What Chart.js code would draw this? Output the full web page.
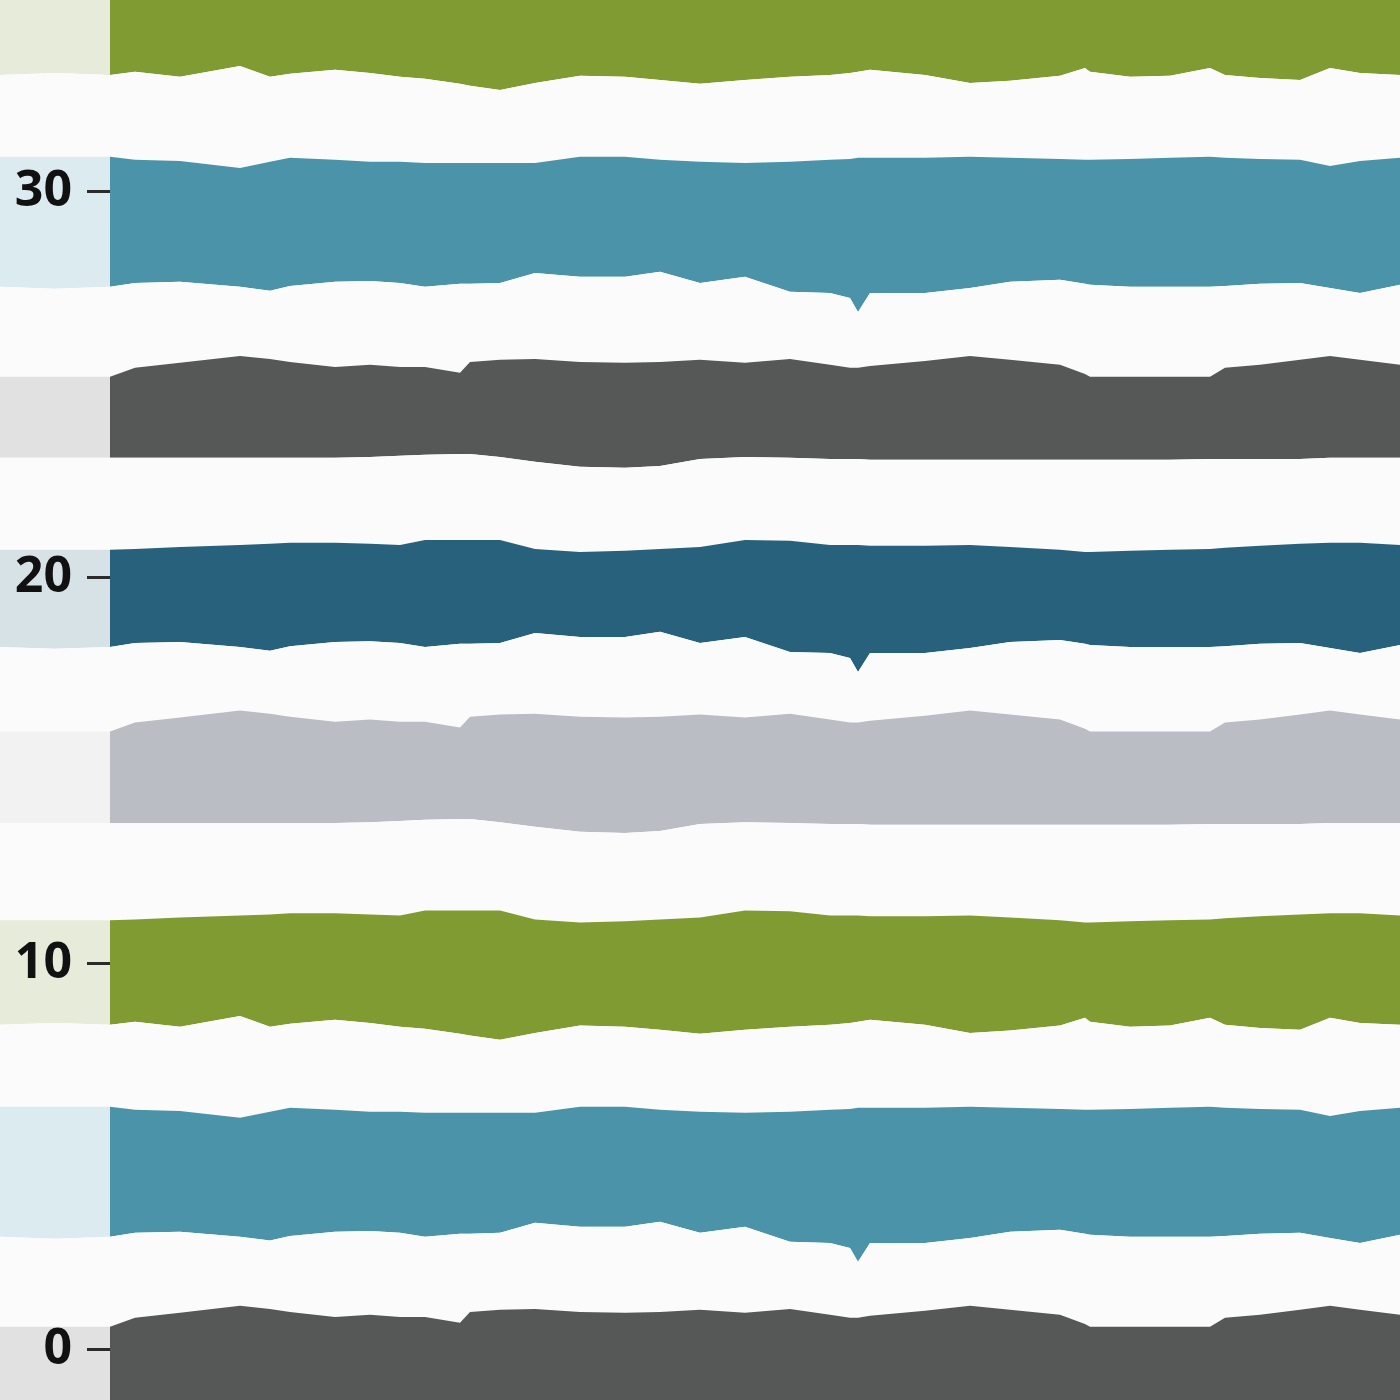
<!DOCTYPE html>
<html>
<head>
<meta charset="utf-8">
<script src="https://cdn.jsdelivr.net/npm/chart.js@4/dist/chart.umd.min.js"></script>
<style>
  html, body { margin: 0; padding: 0; background: #ffffff; }
  #chart { display: block; }
</style>
</head>
<body>
<canvas id="chart" width="1400" height="1400"></canvas>
<script>
// sample positions along the x axis
const xs = [0, 5.5, 11, 13.5, 18, 24, 27, 29, 33.5, 37, 40, 42.5, 46, 47, 50, 53.5, 58, 62.5, 66, 70,
  74.5, 79, 83, 85, 85.8, 87, 92.5, 97, 101, 106, 108.5, 109, 113, 117, 121, 122.5, 126, 130, 133, 136, 140];
const stripEnd = 11;     // where the axis sits
const labelEdge = 7.2;   // right edge of the tick labels
const yTicks = [0, 10, 20, 30];

// band edges, bottom to top
const grayTop1 = [0.60, 0.60, 0.60, 0.83, 0.96, 1.14, 1.06, 0.98, 0.85, 0.91, 0.85, 0.85, 0.70, 0.98, 1.04, 1.06, 0.98, 0.96, 0.98, 1.04,
  0.96, 1.06, 0.91, 0.83, 0.83, 0.88, 1.01, 1.14, 1.04, 0.91, 0.67, 0.60, 0.60, 0.60, 0.60, 0.83, 0.91, 1.04, 1.14, 1.04, 0.91];
const tealBottom1 = [2.93, 2.88, 2.93, 3.03, 3.06, 2.93, 2.83, 2.95, 3.06, 3.08, 3.03, 2.93, 3.01, 3.01, 3.03, 3.29, 3.19, 3.19, 3.32, 3.03,
  3.19, 2.80, 2.77, 2.64, 2.28, 2.77, 2.77, 2.90, 3.06, 3.11, 3.01, 2.98, 2.93, 2.93, 2.93, 2.95, 3.01, 3.03, 2.90, 2.77, 2.98];
const tealTop1 = [6.30, 6.30, 6.30, 6.22, 6.19, 6.01, 6.17, 6.27, 6.22, 6.17, 6.17, 6.14, 6.14, 6.14, 6.14, 6.14, 6.30, 6.30, 6.22, 6.17,
  6.14, 6.17, 6.22, 6.24, 6.27, 6.27, 6.27, 6.30, 6.27, 6.24, 6.22, 6.22, 6.24, 6.27, 6.30, 6.27, 6.24, 6.22, 6.06, 6.19, 6.27];
const greenBottom1 = [8.42, 8.47, 8.42, 8.50, 8.37, 8.65, 8.37, 8.45, 8.55, 8.47, 8.37, 8.32, 8.19, 8.14, 8.03, 8.21, 8.40, 8.37, 8.29, 8.19,
  8.29, 8.37, 8.42, 8.47, 8.50, 8.55, 8.42, 8.21, 8.27, 8.40, 8.60, 8.50, 8.37, 8.40, 8.60, 8.42, 8.34, 8.29, 8.60, 8.47, 8.42];
const greenTop1 = [11.13, 11.13, 11.13, 11.15, 11.20, 11.25, 11.28, 11.31, 11.31, 11.28, 11.25, 11.38, 11.38, 11.38, 11.38, 11.15, 11.07, 11.10, 11.15, 11.20,
  11.38, 11.36, 11.25, 11.25, 11.25, 11.23, 11.23, 11.25, 11.20, 11.13, 11.07, 11.07, 11.10, 11.13, 11.15, 11.18, 11.23, 11.28, 11.31, 11.31, 11.25];
const silverBottom = [13.65, 13.65, 13.65, 13.65, 13.65, 13.65, 13.65, 13.65, 13.65, 13.67, 13.70, 13.73, 13.75, 13.75, 13.67, 13.55, 13.42, 13.39, 13.44, 13.62,
  13.67, 13.65, 13.62, 13.62, 13.62, 13.60, 13.60, 13.60, 13.60, 13.60, 13.60, 13.60, 13.60, 13.60, 13.62, 13.62, 13.62, 13.62, 13.65, 13.65, 13.65];
const silverTop = [16.02, 16.02, 16.02, 16.25, 16.38, 16.56, 16.48, 16.40, 16.27, 16.33, 16.27, 16.27, 16.12, 16.40, 16.46, 16.48, 16.40, 16.38, 16.40, 16.46,
  16.38, 16.48, 16.33, 16.25, 16.25, 16.30, 16.43, 16.56, 16.46, 16.33, 16.09, 16.02, 16.02, 16.02, 16.02, 16.25, 16.33, 16.46, 16.56, 16.46, 16.33];
const navyBottom = [18.21, 18.16, 18.21, 18.31, 18.34, 18.21, 18.11, 18.23, 18.34, 18.36, 18.31, 18.21, 18.29, 18.29, 18.31, 18.57, 18.47, 18.47, 18.60, 18.31,
  18.47, 18.08, 18.05, 17.92, 17.56, 18.05, 18.05, 18.18, 18.34, 18.39, 18.29, 18.26, 18.21, 18.21, 18.21, 18.23, 18.29, 18.31, 18.18, 18.05, 18.26];
const navyTop = [20.73, 20.73, 20.73, 20.75, 20.80, 20.85, 20.88, 20.91, 20.91, 20.88, 20.85, 20.98, 20.98, 20.98, 20.98, 20.75, 20.67, 20.70, 20.75, 20.80,
  20.98, 20.96, 20.85, 20.85, 20.85, 20.83, 20.83, 20.85, 20.80, 20.73, 20.67, 20.67, 20.70, 20.73, 20.75, 20.78, 20.83, 20.88, 20.91, 20.91, 20.85];
const grayBottom2 = [23.11, 23.11, 23.11, 23.11, 23.11, 23.11, 23.11, 23.11, 23.11, 23.13, 23.16, 23.19, 23.21, 23.21, 23.13, 23.01, 22.88, 22.85, 22.90, 23.08,
  23.13, 23.11, 23.08, 23.08, 23.08, 23.06, 23.06, 23.06, 23.06, 23.06, 23.06, 23.06, 23.06, 23.06, 23.08, 23.08, 23.08, 23.08, 23.11, 23.11, 23.11];
const grayTop2 = [25.21, 25.21, 25.21, 25.44, 25.57, 25.75, 25.67, 25.59, 25.46, 25.52, 25.46, 25.46, 25.31, 25.59, 25.65, 25.67, 25.59, 25.57, 25.59, 25.65,
  25.57, 25.67, 25.52, 25.44, 25.44, 25.49, 25.62, 25.75, 25.65, 25.52, 25.28, 25.21, 25.21, 25.21, 25.21, 25.44, 25.52, 25.65, 25.75, 25.65, 25.52];
const tealBottom2 = [27.54, 27.49, 27.54, 27.64, 27.67, 27.54, 27.44, 27.56, 27.67, 27.69, 27.64, 27.54, 27.62, 27.62, 27.64, 27.90, 27.80, 27.80, 27.93, 27.64,
  27.80, 27.41, 27.38, 27.25, 26.89, 27.38, 27.38, 27.51, 27.67, 27.72, 27.62, 27.59, 27.54, 27.54, 27.54, 27.56, 27.62, 27.64, 27.51, 27.38, 27.59];
const tealTop2 = [30.91, 30.91, 30.91, 30.83, 30.80, 30.62, 30.78, 30.88, 30.83, 30.78, 30.78, 30.75, 30.75, 30.75, 30.75, 30.75, 30.91, 30.91, 30.83, 30.78,
  30.75, 30.78, 30.83, 30.85, 30.88, 30.88, 30.88, 30.91, 30.88, 30.85, 30.83, 30.83, 30.85, 30.88, 30.91, 30.88, 30.85, 30.83, 30.67, 30.80, 30.88];
const greenBottom2 = [33.03, 33.08, 33.03, 33.11, 32.98, 33.26, 32.98, 33.06, 33.16, 33.08, 32.98, 32.93, 32.80, 32.75, 32.64, 32.82, 33.01, 32.98, 32.90, 32.80,
  32.90, 32.98, 33.03, 33.08, 33.11, 33.16, 33.03, 32.82, 32.88, 33.01, 33.21, 33.11, 32.98, 33.01, 33.21, 33.03, 32.95, 32.90, 33.21, 33.08, 33.03];

// colours: [solid, pale version used left of the axis]
const GRAY = ['#555857', '#e1e1e1'];
const TEAL = ['#4a93a8', '#dcebef'];
const GREEN = ['#7f9b32', '#e7ecda'];
const SILVER = ['#babdc3', '#f2f2f3'];
const NAVY = ['#28617c', '#d7e2e7'];
const WHITE = ['#fbfbfb', '#fbfbfb'];

const bands = [
  [grayTop1, 'start', GRAY],
  [tealBottom1, '-1', WHITE],
  [tealTop1, '-1', TEAL],
  [greenBottom1, '-1', WHITE],
  [greenTop1, '-1', GREEN],
  [silverBottom, '-1', WHITE],
  [silverTop, '-1', SILVER],
  [navyBottom, '-1', WHITE],
  [navyTop, '-1', NAVY],
  [grayBottom2, '-1', WHITE],
  [grayTop2, '-1', GRAY],
  [tealBottom2, '-1', WHITE],
  [tealTop2, '-1', TEAL],
  [greenBottom2, '-1', WHITE],
  [greenBottom2, 'end', GREEN]
];

const datasets = bands.map(([values, fill, colors]) => ({
  data: values,
  fill: fill,
  backgroundColor: colors[0],
  borderWidth: 0,
  pointRadius: 0,
  tension: 0,
  segment: {
    backgroundColor: (c) => (c.p1.parsed.x <= stripEnd ? colors[1] : undefined)
  }
}));

const Y_MIN = -1.3;
const Y_MAX = 34.97;

const setTicks = (scale) => {
  scale.ticks = yTicks.map((v) => ({ value: v }));
};
const noPadding = (scale) => {
  scale.paddingTop = 0;
  scale.paddingBottom = 0;
};

const ctx = document.getElementById("chart");
const chart = new Chart(ctx, {
  type: "line",
  data: { labels: xs, datasets: datasets },
  options: {
    responsive: false,
    animation: false,
    layout: { padding: 0 },
    plugins: {
      legend: { display: false },
      tooltip: { enabled: false }
    },
    scales: {
      x: { type: "linear", min: 0, max: 140, display: false },
      // the axis itself: tick marks only
      y: {
        type: "linear",
        min: Y_MIN,
        max: Y_MAX,
        position: { x: stripEnd },
        afterBuildTicks: setTicks,
        afterFit: noPadding,
        border: { display: false },
        grid: {
          z: 1,
          drawOnChartArea: false,
          tickLength: 23,
          tickWidth: 3,
          tickColor: "#2b2b2b"
        },
        ticks: { display: false }
      },
      // its labels
      yLabels: {
        type: "linear",
        axis: "y",
        min: Y_MIN,
        max: Y_MAX,
        position: { x: labelEdge },
        afterBuildTicks: setTicks,
        afterFit: noPadding,
        border: { display: false },
        grid: { display: false },
        ticks: {
          z: 1,
          color: "#111111",
          font: { family: "Open Sans", size: 50, weight: "bold" }
        }
      }
    }
  }
});
</script>
</body>
</html>
